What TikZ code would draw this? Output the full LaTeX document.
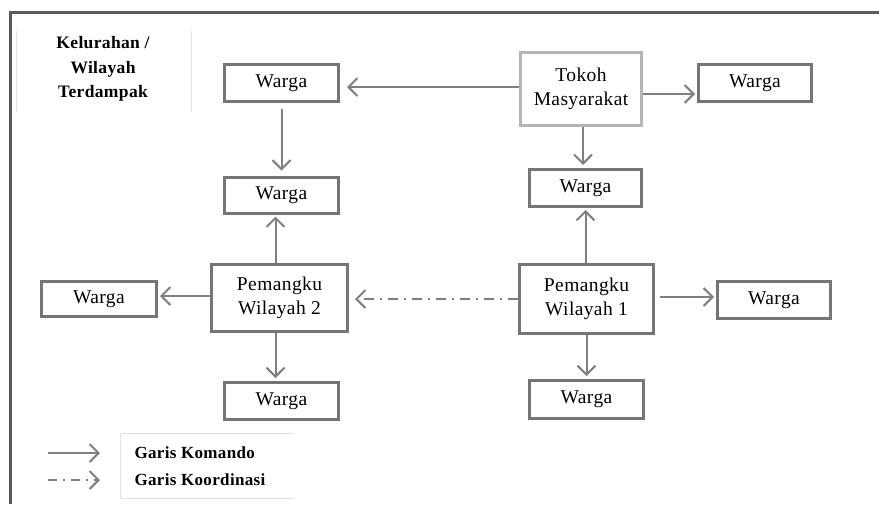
\documentclass[tikz,border=0pt]{standalone}
\usepackage{fontspec}
\setmainfont{Liberation Serif}[LetterSpace=2]
\usetikzlibrary{arrows.meta}
\definecolor{boxgray}{HTML}{757575}
\definecolor{lightbox}{HTML}{B5B5B5}
\definecolor{arrgray}{HTML}{808080}
\definecolor{framegray}{HTML}{5A5A5A}
\definecolor{faint}{HTML}{E2E2E2}
\tikzset{
  wbox/.style={draw=boxgray, line width=3pt, fill=white, inner sep=0pt, align=center,
    font=\fontsize{19.5}{24.5}\selectfont},
  tbox/.style={wbox, draw=lightbox},
  cmd/.style={draw=arrgray, line width=2pt, -{Straight Barb[length=9pt,width=18pt,line width=2pt]}},
  coord/.style={cmd, dash pattern=on 10pt off 6pt on 2pt off 6pt},
  headtxt/.style={align=center, font=\bfseries\fontsize{17.5}{24.5}\selectfont},
  legtxt/.style={anchor=west, font=\bfseries\fontsize{17}{20}\selectfont},
}
\begin{document}
\begin{tikzpicture}[x=1pt,y=-1pt]
\useasboundingbox (0,0) rectangle (879,504);
% frame
\draw[framegray, line width=3pt] (879,12) -- (10,12) -- (10,504);
% heading
\draw[faint, line width=1pt] (16,31) -- (16,112);
\draw[faint, line width=1pt] (191,31) -- (191,112);
\node[headtxt] (head) at (103,69) {Kelurahan /\\Wilayah\\Terdampak};
% nodes
\node[wbox, minimum width=114, minimum height=37] (wtl) at (281.5,83) {Warga};
\node[tbox, minimum width=121, minimum height=73] (tokoh) at (581,89) {Tokoh\\Masyarakat};
\node[wbox, minimum width=113, minimum height=37] (wtr) at (755,83) {Warga};
\node[wbox, minimum width=114, minimum height=36] (wl2) at (281.5,195) {Warga};
\node[wbox, minimum width=112, minimum height=37] (wr2) at (585.5,188) {Warga};
\node[wbox, minimum width=136, minimum height=67] (p2) at (279.5,298) {Pemangku\\Wilayah 2};
\node[wbox, minimum width=134, minimum height=69] (p1) at (586.5,299) {Pemangku\\Wilayah 1};
\node[wbox, minimum width=115, minimum height=35] (wl3) at (99,299) {Warga};
\node[wbox, minimum width=113, minimum height=37] (wr3) at (774,300) {Warga};
\node[wbox, minimum width=114, minimum height=37] (wbl) at (281.5,401) {Warga};
\node[wbox, minimum width=114, minimum height=38] (wbr) at (586.5,399.5) {Warga};
% connectors
\draw[cmd, shorten >=7pt] ([yshift=2pt]tokoh.west) -- ([yshift=2pt]tokoh.west -| wtl.east);
\draw[cmd, shorten >=2pt] ([yshift=-5pt]tokoh.east) -- ([yshift=-5pt]tokoh.east -| wtr.west);
\draw[cmd, shorten >=3pt] ([xshift=2pt]tokoh.south) -- ([xshift=2pt]tokoh.south |- wr2.north);
\draw[cmd, shorten <=6pt, shorten >=5pt] (wtl.south) -- (wl2.north);
\draw[cmd, shorten >=2pt] ([xshift=-4pt]p2.north) -- ([xshift=-4pt]p2.north |- wl2.south);
\draw[cmd, shorten >=2pt] ([yshift=2pt]p2.west) -- ([yshift=2pt]p2.west -| wl3.east);
\draw[cmd, shorten >=3pt] ([xshift=-4pt]p2.south) -- ([xshift=-4pt]p2.south |- wbl.north);
\draw[cmd, shorten >=2pt] ([xshift=-1pt]p1.north) -- ([xshift=-1pt]p1.north |- wr2.south);
\draw[cmd, shorten >=2pt, shorten <=5pt] ([yshift=2pt]p1.east) -- ([yshift=2pt]p1.east -| wr3.west);
\draw[cmd, shorten >=3pt] (p1.south) -- (p1.south |- wbr.north);
\draw[coord, shorten >=6pt] (p1.west) -- (p1.west -| p2.east);
% legend
\draw[faint, line width=1pt] (294,433) -- (120,433) -- (120,498) -- (294,498);
\coordinate (l1a) at (48,453);
\coordinate (l1b) at (100,453);
\coordinate (l2a) at (48,480);
\coordinate (l2b) at (100,480);
\draw[cmd] (l1a) -- (l1b);
\draw[coord, dash pattern=on 9pt off 6pt on 2pt off 6pt] (l2a) -- (l2b);
\node[legtxt] (lk) at (131,453) {Garis Komando};
\node[legtxt] (lko) at (131,480) {Garis Koordinasi};
\end{tikzpicture}
\end{document}
